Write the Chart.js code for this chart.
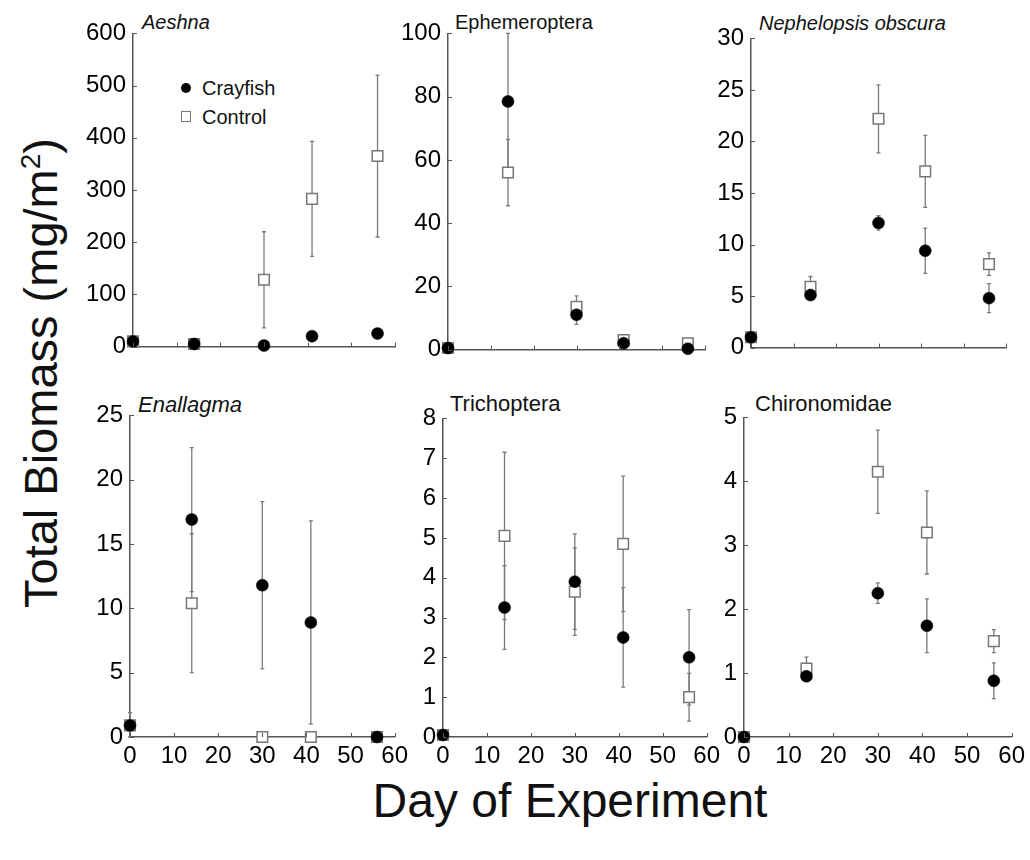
<!DOCTYPE html>
<html lang="en">
  <head>
    <meta charset="UTF-8" />
    <title>Total Biomass by Day of Experiment</title>
    <script src="https://cdn.jsdelivr.net/npm/chart.js"></script>
    <style>
      body { margin: 0; background: #fff; font-family: "Liberation Sans", Arial, sans-serif; color: #111; }
      #page { position: relative; width: 1030px; height: 860px; overflow: hidden; background: #fff; }
      .panel { position: absolute; }
      .txt { position: absolute; white-space: nowrap; line-height: 1; }
      .ital { font-style: italic; }
      .dot { position: absolute; width: 10px; height: 10px; border-radius: 50%; background: #000; }
      .box { position: absolute; width: 8px; height: 9px; border: 1.5px solid #777; background: #fff; }
    </style>
  </head>
  <body>
    <div id="page">
      <div class="txt" style="font-size:47px; left:40px; top:373px; transform:translate(-50%,-50%) rotate(-90deg);">Total Biomass (mg/m<sup style="font-size:28px">2</sup>)</div>
      <div class="txt" style="font-size:48px; left:570px; top:777px; transform:translateX(-50%);">Day of Experiment</div>

      <div class="txt ital" style="font-size:20px; left:142px; top:12px;">Aeshna</div>
      <div class="txt" style="font-size:20px; left:455px; top:12px;">Ephemeroptera</div>
      <div class="txt ital" style="font-size:20px; left:759px; top:13px;">Nephelopsis obscura</div>
      <div class="txt ital" style="font-size:22px; left:138px; top:394px;">Enallagma</div>
      <div class="txt" style="font-size:22px; left:450px; top:393px;">Trichoptera</div>
      <div class="txt" style="font-size:22px; left:755px; top:393px;">Chironomidae</div>

      <div class="dot" style="left:181px; top:83px;"></div>
      <div class="txt" style="font-size:20px; left:202px; top:78px;">Crayfish</div>
      <div class="box" style="left:181px; top:111px;"></div>
      <div class="txt" style="font-size:20px; left:202px; top:107px;">Control</div>

      <div class="panel" id="p1"><canvas id="c1"></canvas></div>
      <div class="panel" id="p2"><canvas id="c2"></canvas></div>
      <div class="panel" id="p3"><canvas id="c3"></canvas></div>
      <div class="panel" id="p4"><canvas id="c4"></canvas></div>
      <div class="panel" id="p5"><canvas id="c5"></canvas></div>
      <div class="panel" id="p6"><canvas id="c6"></canvas></div>
    </div>

    <script>
      // sampling days
      const days = [0, 14, 30, 41, 56];
      const dayTicks = [0, 10, 20, 30, 40, 50, 60];

      // Aeshna
      const aeshnaCrayfish = [10, 5, 2, 20, 25];
      const aeshnaCrayfishErr = [5, 5, 3, 6, 8];
      const aeshnaControl = [10, 5, 128, 283, 365];
      const aeshnaControlErr = [5, 5, 92, 110, 155];

      // Ephemeroptera
      const ephemCrayfish = [0.5, 78.5, 11, 2, 0.3];
      const ephemCrayfishErr = [0.5, 21.5, 3, 1, 0.5];
      const ephemControl = [0.5, 56, 13.5, 3, 2];
      const ephemControlErr = [0.5, 10.5, 3.5, 1, 1];

      // Nephelopsis obscura
      const nephCrayfish = [1, 5.1, 12.1, 9.4, 4.8];
      const nephCrayfishErr = [0.3, 0.5, 0.7, 2.2, 1.4];
      const nephControl = [1, 5.9, 22.2, 17.1, 8.1];
      const nephControlErr = [0.3, 1, 3.3, 3.5, 1.1];

      // Enallagma
      const enalCrayfish = [0.9, 16.9, 11.8, 8.9, 0];
      const enalCrayfishErr = [1, 5.6, 6.5, 7.9, 0.3];
      const enalControl = [0.9, 10.4, 0, 0, 0];
      const enalControlErr = [0, 5.4, 0, 0, 0];

      // Trichoptera
      const trichCrayfish = [0.05, 3.25, 3.9, 2.5, 2.0];
      const trichCrayfishErr = [0.05, 1.05, 1.2, 1.25, 1.2];
      const trichControl = [0.05, 5.05, 3.65, 4.85, 1.0];
      const trichControlErr = [0, 2.1, 1.1, 1.7, 0.6];

      // Chironomidae
      const chirCrayfish = [0, 0.95, 2.25, 1.74, 0.88];
      const chirCrayfishErr = [0, 0.08, 0.16, 0.42, 0.28];
      const chirControl = [0, 1.07, 4.15, 3.2, 1.5];
      const chirControlErr = [0, 0.18, 0.65, 0.65, 0.18];

      const axisColor = "#555";
      const barColor = "#7a7a7a";
      const tickFont = { family: "'Liberation Sans', Arial, sans-serif", size: 24 };

      // vertical error bars, drawn under the markers
      const errorBars = {
        id: "errorBars",
        beforeDatasetsDraw(chart) {
          const ctx = chart.ctx;
          const ys = chart.scales.y;
          ctx.save();
          ctx.strokeStyle = barColor;
          ctx.lineWidth = 1.3;
          chart.data.datasets.forEach((ds, i) => {
            const meta = chart.getDatasetMeta(i);
            meta.data.forEach((pt, j) => {
              const e = ds.errors[j];
              if (!e) return;
              const v = ds.data[j].y;
              const top = ys.getPixelForValue(v + e);
              const bot = ys.getPixelForValue(Math.max(v - e, 0));
              ctx.beginPath();
              ctx.moveTo(pt.x, top);
              ctx.lineTo(pt.x, bot);
              ctx.moveTo(pt.x - 2, top);
              ctx.lineTo(pt.x + 2, top);
              ctx.moveTo(pt.x - 2, bot);
              ctx.lineTo(pt.x + 2, bot);
              ctx.stroke();
            });
          });
          ctx.restore();
        },
      };

      // small tick marks pointing into the plot
      const innerTicks = {
        id: "innerTicks",
        afterDraw(chart) {
          const { ctx, chartArea } = chart;
          const xs = chart.scales.x;
          const ys = chart.scales.y;
          ctx.save();
          ctx.strokeStyle = axisColor;
          ctx.lineWidth = 1;
          ctx.beginPath();
          ys.ticks.forEach((t, i) => {
            const p = Math.round(ys.getPixelForTick(i)) + 0.5;
            ctx.moveTo(chartArea.left, p);
            ctx.lineTo(chartArea.left + 4, p);
          });
          xs.ticks.forEach((t, i) => {
            const p = Math.round(xs.getPixelForTick(i)) + 0.5;
            ctx.moveTo(p, chartArea.bottom);
            ctx.lineTo(p, chartArea.bottom - 4);
          });
          ctx.stroke();
          ctx.restore();
        },
      };

      function toPoints(vals) {
        return days.map((d, i) => ({ x: d, y: vals[i] }));
      }

      // area = target plot box on the page: left, top, right, bottom
      function makePanel(n, area, yMax, yStep, crayfish, crayErr, control, ctrlErr, showX) {
        const yW = 60;
        const padTop = 16;
        const padRight = showX ? 16 : 6;
        const xH = showX ? 40 : 6;
        // space Chart.js ends up leaving round the plot box
        const offTop = 21;
        const offRight = showX ? 18 : 9;
        const offBottom = showX ? 40 : 21;
        const w = area[2] - area[0] + yW + offRight;
        const h = area[3] - area[1] + offTop + offBottom;
        const holder = document.getElementById("p" + n);
        holder.style.left = area[0] - yW + "px";
        holder.style.top = area[1] - offTop + "px";
        const canvas = document.getElementById("c" + n);
        canvas.width = w;
        canvas.height = h;

        return new Chart(canvas, {
          type: "scatter",
          data: {
            datasets: [
              {
                label: "Crayfish",
                data: toPoints(crayfish),
                errors: crayErr,
                pointStyle: "circle",
                pointRadius: 6,
                pointBackgroundColor: "#000",
                pointBorderColor: "#000",
                pointBorderWidth: 0.5,
                clip: false,
              },
              {
                label: "Control",
                data: toPoints(control),
                errors: ctrlErr,
                pointStyle: "rect",
                pointRadius: 7.5,
                pointBackgroundColor: "#fff",
                pointBorderColor: "#777",
                pointBorderWidth: 1.5,
                clip: false,
              },
            ],
          },
          options: {
            responsive: false,
            animation: false,
            events: [],
            layout: { padding: { top: padTop, right: padRight, left: 0, bottom: 0 } },
            plugins: { legend: { display: false }, tooltip: { enabled: false } },
            scales: {
              x: {
                type: "linear",
                min: 0,
                max: 60,
                afterBuildTicks: (s) => {
                  s.ticks = dayTicks.map((v) => ({ value: v }));
                },
                afterFit: (s) => {
                  s.height = xH;
                },
                grid: { display: false, drawTicks: false },
                border: { display: true, color: axisColor, width: 1.5 },
                ticks: { display: showX, color: "#000", font: tickFont, padding: 5, maxRotation: 0, autoSkip: false },
              },
              y: {
                min: 0,
                max: yMax,
                ticks: { stepSize: yStep, color: "#000", font: tickFont, padding: 7 },
                afterFit: (s) => {
                  s.width = yW;
                },
                grid: { display: false, drawTicks: false },
                border: { display: true, color: axisColor, width: 1.5 },
              },
            },
          },
          plugins: [errorBars, innerTicks],
        });
      }

      makePanel(1, [133, 33, 395, 347], 600, 100, aeshnaCrayfish, aeshnaCrayfishErr, aeshnaControl, aeshnaControlErr, false);
      makePanel(2, [448, 33, 705, 350], 100, 20, ephemCrayfish, ephemCrayfishErr, ephemControl, ephemControlErr, false);
      makePanel(3, [751, 38, 1006, 348], 30, 5, nephCrayfish, nephCrayfishErr, nephControl, nephControlErr, false);
      makePanel(4, [130, 415, 395, 737], 25, 5, enalCrayfish, enalCrayfishErr, enalControl, enalControlErr, true);
      makePanel(5, [443, 418, 707, 737], 8, 1, trichCrayfish, trichCrayfishErr, trichControl, trichControlErr, true);
      makePanel(6, [744, 417, 1012, 737], 5, 1, chirCrayfish, chirCrayfishErr, chirControl, chirControlErr, true);
    </script>
  </body>
</html>
